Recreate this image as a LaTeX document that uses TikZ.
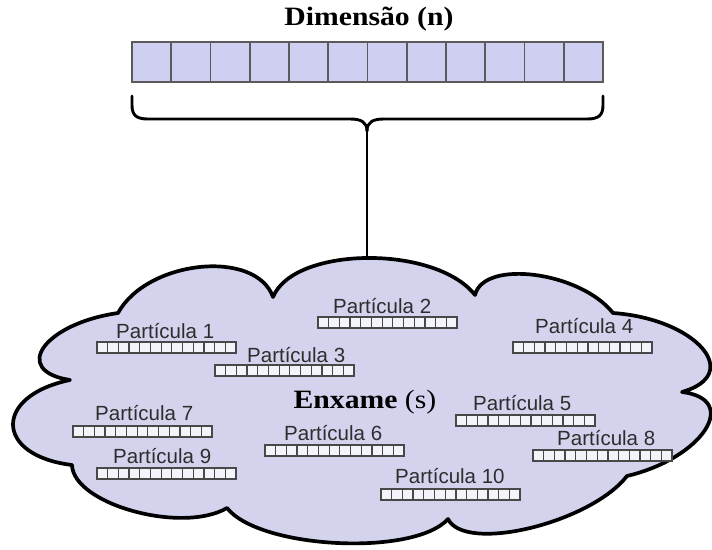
\documentclass[tikz,border=0pt]{standalone}
\usepackage{fontspec}
\setmainfont{Liberation Sans}
\newfontfamily\titlefont[FakeStretch=1.12]{Liberation Serif}
\usetikzlibrary{calc}

\definecolor{cloudfill}{RGB}{211,211,238}
\definecolor{vecfill}{RGB}{207,207,241}
\definecolor{cellfill}{RGB}{243,243,250}
\definecolor{cellgray}{RGB}{72,72,72}
\definecolor{labelgray}{RGB}{45,45,45}

\tikzset{
  % vertical dividers splitting a box into #1+1 equal cells
  cells/.style={path picture={
    \foreach \k in {1,...,#1}{
      \draw[line width=\pgflinewidth]
        ($(path picture bounding box.south west)!{\k/(#1+1)}!(path picture bounding box.south east)$)
        -- ($(path picture bounding box.north west)!{\k/(#1+1)}!(path picture bounding box.north east)$);
    }}},
  dimvec/.style={draw=cellgray!90, fill=vecfill, line width=1.6pt,
    minimum width=471pt, minimum height=40pt, inner sep=0pt, outer sep=0pt,
    anchor=north west, cells=11},
  pvec/.style={draw=cellgray, fill=cellfill, line width=1.3pt,
    minimum width=139pt, minimum height=11pt, inner sep=0pt, outer sep=0pt,
    anchor=north west, cells=12},
  plabel/.style={anchor=base west, inner sep=0pt, text=labelgray,
    font=\fontsize{20.5}{24}\selectfont},
  titletext/.style={anchor=base, inner sep=0pt,
    font=\titlefont\fontsize{26.5}{30}\selectfont\bfseries},
  cloudline/.style={draw=black, line width=3.7pt, fill=cloudfill, line join=round},
  braceline/.style={draw=black, line width=2.9pt, line cap=round, line join=round},
  linkline/.style={draw=black, line width=2.6pt},
}

\begin{document}
\begin{tikzpicture}[x=1pt, y=-1pt]
\useasboundingbox (0,0) rectangle (712,549);

% dimension vector and its title
\node[titletext] (dimtitle) at (369,25) {Dimensão (n)};
\node[dimvec] (dimv) at (132,42) {};

% brace under the vector
\coordinate (btip) at (367,131);
\draw[braceline] (132,96) -- (132,105)
  .. controls (132,115) and (136,119) .. (148,119) -- (350,119)
  .. controls (361,119) and (367,122) .. (btip);
\draw[braceline] (603,96) -- (603,105)
  .. controls (603,115) and (599,119) .. (587,119) -- (384,119)
  .. controls (373,119) and (367,122) .. (btip);

% the swarm cloud
\draw[cloudline] (273,297)
  .. controls (294,246) and (435.4,244.6) .. (475,295)
  .. controls (483.7,259) and (580.3,271.6) .. (613,313)
  .. controls (696,318.8) and (744.4,374.2) .. (682,392)
  .. controls (741.1,399.3) and (702.5,458.1) .. (627,476)
  .. controls (590.2,523.1) and (464.8,553.3) .. (448,519)
  .. controls (414.2,556.7) and (259.4,548.9) .. (227,508)
  .. controls (181.8,534.3) and (73.2,504.1) .. (72,465)
  .. controls (-5.6,455.6) and (-7,396) .. (70,380)
  .. controls (10.5,370.7) and (44.1,323.7) .. (118,313)
  .. controls (147.2,259.9) and (255.8,248.7) .. (273,297) -- cycle;
\coordinate (ctop) at (367,258);

% link from the brace to the cloud
\draw[linkline] (btip) -- (ctop);

\node[titletext] (swarm) at (365,408) {Enxame {\mdseries(s)}};

% particles
\node[pvec] (v1) at (97,342) {};
\node[plabel] (l1) at (116,338) {Partícula 1};
\node[pvec] (v2) at (318,317) {};
\node[plabel] (l2) at (333,313) {Partícula 2};
\node[pvec] (v3) at (215,365) {};
\node[plabel] (l3) at (247,362) {Partícula 3};
\node[pvec] (v4) at (513,342) {};
\node[plabel] (l4) at (535,333) {Partícula 4};
\node[pvec] (v5) at (456,415) {};
\node[plabel] (l5) at (473,410) {Partícula 5};
\node[pvec] (v6) at (265,445) {};
\node[plabel] (l6) at (284,440) {Partícula 6};
\node[pvec] (v7) at (73,426) {};
\node[plabel] (l7) at (95,420) {Partícula 7};
\node[pvec] (v8) at (533,450) {};
\node[plabel] (l8) at (557,445) {Partícula 8};
\node[pvec] (v9) at (97,468) {};
\node[plabel] (l9) at (113,463) {Partícula 9};
\node[pvec] (v10) at (381,489) {};
\node[plabel] (l10) at (395,483) {Partícula 10};
\end{tikzpicture}
\end{document}
